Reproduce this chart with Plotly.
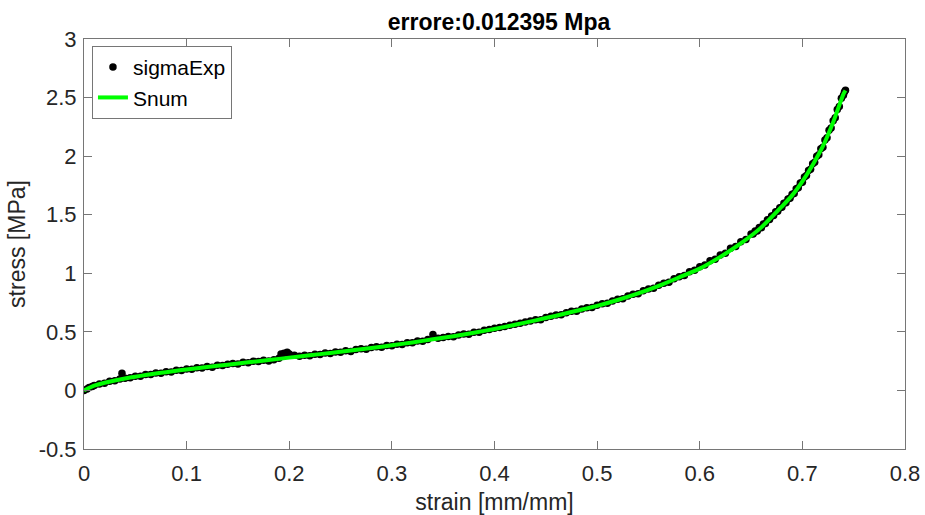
import plotly.graph_objects as go

# Experimental stress-strain samples
exp_strain = [
    0.000, 0.003, 0.005, 0.008, 0.010, 0.015, 0.020, 0.025, 0.030, 0.035, 0.037, 0.040,
    0.045, 0.050, 0.055, 0.060, 0.065, 0.070, 0.075, 0.080, 0.085, 0.090, 0.095, 0.100,
    0.105, 0.110, 0.115, 0.120, 0.125, 0.130, 0.135, 0.140, 0.145, 0.150, 0.155, 0.160,
    0.165, 0.170, 0.175, 0.180, 0.185, 0.190, 0.192, 0.195, 0.198, 0.200, 0.205, 0.210,
    0.215, 0.220, 0.225, 0.230, 0.235, 0.240, 0.245, 0.250, 0.255, 0.260, 0.265, 0.270,
    0.275, 0.280, 0.285, 0.290, 0.295, 0.300, 0.305, 0.310, 0.315, 0.320, 0.325, 0.330,
    0.335, 0.340, 0.345, 0.350, 0.355, 0.360, 0.365, 0.370, 0.375, 0.380, 0.385, 0.390,
    0.395, 0.400, 0.405, 0.410, 0.415, 0.420, 0.425, 0.430, 0.435, 0.440, 0.445, 0.450,
    0.455, 0.460, 0.465, 0.470, 0.475, 0.480, 0.485, 0.490, 0.495, 0.500, 0.505, 0.510,
    0.515, 0.520, 0.525, 0.530, 0.535, 0.540, 0.545, 0.550, 0.555, 0.560, 0.565, 0.570,
    0.575, 0.580, 0.585, 0.590, 0.595, 0.600, 0.605, 0.610, 0.615, 0.620, 0.625, 0.630,
    0.635, 0.640, 0.645, 0.650, 0.652, 0.654, 0.656, 0.658, 0.660, 0.662, 0.664, 0.666,
    0.668, 0.670, 0.672, 0.674, 0.676, 0.678, 0.680, 0.682, 0.684, 0.686, 0.688, 0.690,
    0.692, 0.694, 0.696, 0.698, 0.700, 0.702, 0.704, 0.706, 0.708, 0.710, 0.712, 0.714,
    0.716, 0.718, 0.720, 0.722, 0.724, 0.726, 0.728, 0.730, 0.732, 0.734, 0.736, 0.738,
    0.740, 0.741, 0.742,
]
exp_stress = [
    0.000, 0.012, 0.026, 0.034, 0.042, 0.055, 0.061, 0.079, 0.083, 0.097, 0.146, 0.105,
    0.108, 0.121, 0.120, 0.136, 0.135, 0.149, 0.146, 0.160, 0.158, 0.172, 0.171, 0.183,
    0.180, 0.194, 0.191, 0.205, 0.198, 0.214, 0.212, 0.224, 0.229, 0.226, 0.240, 0.236,
    0.249, 0.246, 0.258, 0.252, 0.262, 0.275, 0.310, 0.318, 0.326, 0.312, 0.300, 0.292,
    0.300, 0.296, 0.309, 0.306, 0.319, 0.316, 0.329, 0.326, 0.338, 0.333, 0.349, 0.356,
    0.352, 0.366, 0.372, 0.369, 0.383, 0.381, 0.395, 0.393, 0.408, 0.406, 0.421, 0.419,
    0.434, 0.478, 0.446, 0.452, 0.460, 0.458, 0.474, 0.481, 0.480, 0.497, 0.496, 0.513,
    0.521, 0.530, 0.538, 0.546, 0.556, 0.565, 0.574, 0.584, 0.592, 0.604, 0.604, 0.623,
    0.633, 0.643, 0.645, 0.664, 0.675, 0.676, 0.696, 0.706, 0.708, 0.728, 0.739, 0.744,
    0.764, 0.778, 0.782, 0.806, 0.820, 0.825, 0.850, 0.866, 0.872, 0.898, 0.916, 0.924,
    0.953, 0.971, 0.982, 1.014, 1.025, 1.056, 1.070, 1.108, 1.120, 1.157, 1.172, 1.213,
    1.228, 1.270, 1.288, 1.336, 1.336, 1.362, 1.362, 1.390, 1.389, 1.420, 1.424, 1.456,
    1.459, 1.490, 1.494, 1.526, 1.529, 1.560, 1.564, 1.597, 1.602, 1.635, 1.640, 1.674,
    1.682, 1.722, 1.730, 1.770, 1.778, 1.822, 1.834, 1.878, 1.889, 1.935, 1.948, 1.999,
    2.012, 2.064, 2.076, 2.137, 2.158, 2.220, 2.240, 2.302, 2.328, 2.398, 2.424, 2.494,
    2.520, 2.548, 2.562,
]

# Numerical model response
num_strain = [
    0.00, 0.01, 0.02, 0.03, 0.04, 0.05, 0.06, 0.07, 0.08, 0.09, 0.10, 0.12, 0.14, 0.16,
    0.18, 0.20, 0.22, 0.24, 0.26, 0.28, 0.30, 0.32, 0.34, 0.36, 0.38, 0.40, 0.42, 0.44,
    0.46, 0.48, 0.50, 0.52, 0.54, 0.56, 0.58, 0.60, 0.62, 0.64, 0.66, 0.68, 0.69, 0.70,
    0.71, 0.72, 0.73, 0.74, 0.742,
]
num_stress = [
    0.000, 0.040, 0.065, 0.085, 0.102, 0.117, 0.131, 0.144, 0.156, 0.168, 0.179, 0.200,
    0.220, 0.240, 0.259, 0.280, 0.300, 0.320, 0.340, 0.362, 0.385, 0.410, 0.436, 0.462,
    0.492, 0.525, 0.560, 0.598, 0.638, 0.680, 0.722, 0.772, 0.828, 0.892, 0.965, 1.040,
    1.140, 1.255, 1.392, 1.570, 1.665, 1.785, 1.925, 2.085, 2.290, 2.530, 2.560,
]

x_ticks = [0, 0.1, 0.2, 0.3, 0.4, 0.5, 0.6, 0.7, 0.8]
x_tick_text = ["0", "0.1", "0.2", "0.3", "0.4", "0.5", "0.6", "0.7", "0.8"]
y_ticks = [-0.5, 0, 0.5, 1, 1.5, 2, 2.5, 3]
y_tick_text = ["-0.5", "0", "0.5", "1", "1.5", "2", "2.5", "3"]

FONT = "Liberation Sans, Arial, Helvetica, sans-serif"
AXIS_COLOR = "#767676"
TEXT_COLOR = "#262626"

fig = go.Figure()
fig.add_trace(go.Scatter(
    x=exp_strain, y=exp_stress, mode="markers", name="sigmaExp",
    marker=dict(color="black", size=7.5, line=dict(width=0)),
))
fig.add_trace(go.Scatter(
    x=num_strain, y=num_stress, mode="lines", name="Snum",
    line=dict(color="#00ff00", width=4, shape="spline", smoothing=0.6),
))

axis_common = dict(
    showgrid=False, zeroline=False, showline=True, linecolor=AXIS_COLOR, linewidth=1,
    mirror="ticks", ticks="inside", ticklen=8, tickcolor=AXIS_COLOR, tickwidth=1,
    tickfont=dict(family=FONT, size=22, color=TEXT_COLOR), automargin=False,
)
fig.update_xaxes(
    range=[0, 0.8], tickvals=x_ticks, ticktext=x_tick_text, ticklabelstandoff=5,
    title=dict(text="strain [mm/mm]", font=dict(family=FONT, size=23, color=TEXT_COLOR), standoff=20),
    **axis_common,
)
fig.update_yaxes(
    range=[-0.5, 3], tickvals=y_ticks, ticktext=y_tick_text, ticklabelstandoff=2,
    title=dict(text="stress [MPa]", font=dict(family=FONT, size=23, color=TEXT_COLOR), standoff=6),
    **axis_common,
)

fig.update_layout(
    width=925, height=515,
    margin=dict(l=84, r=20, t=39, b=66),
    paper_bgcolor="white", plot_bgcolor="white",
    title=dict(
        text="<b>errore:0.012395 Mpa</b>", x=0.5395, xanchor="center",
        y=1 - 22 / 515, yanchor="middle",
        font=dict(family=FONT, size=23, color="black"),
    ),
    legend=dict(
        x=0.0097, y=0.983, xanchor="left", yanchor="top",
        bgcolor="white", bordercolor=AXIS_COLOR, borderwidth=1,
        font=dict(family=FONT, size=21, color="black"),
        itemwidth=30, tracegroupgap=0,
    ),
    showlegend=True,
)

fig.write_html("out.html")
